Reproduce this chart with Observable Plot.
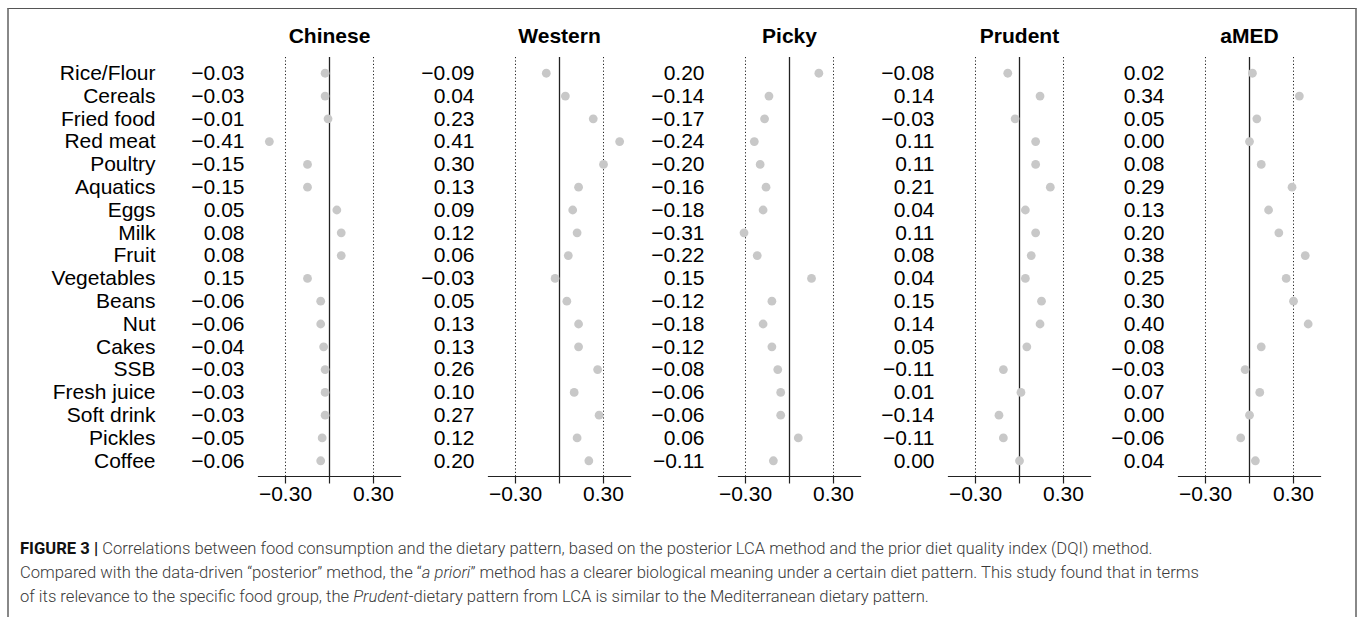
<!DOCTYPE html>
<html>
<head>
<meta charset="utf-8">
<script src="https://cdn.jsdelivr.net/npm/d3@7"></script>
<script src="https://cdn.jsdelivr.net/npm/@observablehq/plot@0.6"></script>
<style>
  html, body { margin: 0; padding: 0; background: #fff; }
  #page { position: relative; width: 1358px; height: 617px; overflow: hidden; }
  #box { position: absolute; left: 7px; top: 8px; width: 1346px; height: 700px;
         border-top: 1.5px solid #555; border-left: 2px solid #888; border-right: 2px solid #888; }
  #chart { position: absolute; left: 0; top: 0; }
  #caption { position: absolute; left: 20px; top: 537px; font-family: Roboto, "Liberation Sans", sans-serif;
             font-size: 16.6px; line-height: 24px; color: #3a3a3a; white-space: nowrap; font-weight: 300; }
  #caption b { color: #111; font-weight: 700; }
</style>
</head>
<body>
<div id="page">
  <div id="box"></div>
  <div id="chart"></div>
  <div id="caption"><b>FIGURE 3 |</b> Correlations between food consumption and the dietary pattern, based on the posterior LCA method and the prior diet quality index (DQI) method.<br>Compared with the data-driven “posterior” method, the “<i>a priori</i>” method has a clearer biological meaning under a certain diet pattern. This study found that in terms<br>of its relevance to the specific food group, the <i>Prudent</i>-dietary pattern from LCA is similar to the Mediterranean dietary pattern.</div>
</div>
<script>
const foods = ["Rice/Flour","Cereals","Fried food","Red meat","Poultry","Aquatics","Eggs","Milk","Fruit","Vegetables","Beans","Nut","Cakes","SSB","Fresh juice","Soft drink","Pickles","Coffee"];
const patterns = ["Chinese","Western","Picky","Prudent","aMED"];

// printed correlation values
const chinese = [-0.03,-0.03,-0.01,-0.41,-0.15,-0.15,0.05,0.08,0.08,0.15,-0.06,-0.06,-0.04,-0.03,-0.03,-0.03,-0.05,-0.06];
const western = [-0.09,0.04,0.23,0.41,0.30,0.13,0.09,0.12,0.06,-0.03,0.05,0.13,0.13,0.26,0.10,0.27,0.12,0.20];
const picky   = [0.20,-0.14,-0.17,-0.24,-0.20,-0.16,-0.18,-0.31,-0.22,0.15,-0.12,-0.18,-0.12,-0.08,-0.06,-0.06,0.06,-0.11];
const prudent = [-0.08,0.14,-0.03,0.11,0.11,0.21,0.04,0.11,0.08,0.04,0.15,0.14,0.05,-0.11,0.01,-0.14,-0.11,0.00];
const amed    = [0.02,0.34,0.05,0.00,0.08,0.29,0.13,0.20,0.38,0.25,0.30,0.40,0.08,-0.03,0.07,0.00,-0.06,0.04];

// plotted dot positions (as drawn in the figure; Chinese "Vegetables" dot sits at -0.15)
const chineseDots = [-0.03,-0.03,-0.01,-0.41,-0.15,-0.15,0.05,0.08,0.08,-0.15,-0.06,-0.06,-0.04,-0.03,-0.03,-0.03,-0.05,-0.06];

const axisTicks = [-0.30, 0, 0.30];
const axisTickLabels = ["−0.30", "", "0.30"];

const labelSeries = [chinese, western, picky, prudent, amed];
const dotSeries = [chineseDots, western, picky, prudent, amed];

const rows = [];
patterns.forEach((p, i) => {
  foods.forEach((f, j) => {
    rows.push({pattern: p, food: f, row: j, value: labelSeries[i][j], dot: dotSeries[i][j]});
  });
});
const fmt = d3.format(".2f");
const firstRows = rows.filter(d => d.pattern === patterns[0]);
const pad = 0.69;

const chart = Plot.plot({
  width: 1358,
  height: 516,
  marginTop: 57,
  marginBottom: 40,
  marginLeft: 256,
  marginRight: 36,
  style: {fontFamily: "'Liberation Sans', Arial, Helvetica, sans-serif", fontSize: "21px", color: "#000", background: "transparent"},
  fx: {domain: patterns, paddingInner: 0.3845, paddingOuter: 0, axis: null},
  x: {domain: [-0.484, 0.484], axis: null},
  y: {type: "linear", domain: [-pad, foods.length - 1 + pad], range: [57, 476], axis: null},
  marks: [
    Plot.ruleX([-0.30, 0.30], {stroke: "#222", strokeWidth: 1, strokeDasharray: "1.2,2.2"}),
    Plot.ruleX([0], {stroke: "#222", strokeWidth: 1.3}),
    Plot.frame({anchor: "bottom", stroke: "#222", strokeWidth: 1.2}),
    Plot.axisX({ticks: axisTicks, tickSize: 7.5, tickPadding: 2.5, stroke: "#222", strokeWidth: 1.2, label: null,
                tickFormat: d => axisTickLabels[axisTicks.indexOf(d)], fontSize: 21, fill: "#000"}),
    Plot.dot(rows, {x: "dot", y: "row", fx: "pattern", r: 4.4, fill: "#c8c8c8", stroke: null}),
    Plot.text(rows, {y: "row", fx: "pattern", text: d => fmt(d.value), frameAnchor: "left", dx: -14,
                     textAnchor: "end", lineAnchor: "middle", fontSize: 21, fill: "#000"}),
    Plot.text(firstRows, {y: "row", fx: "pattern", text: "food", frameAnchor: "left", dx: -103,
                          textAnchor: "end", lineAnchor: "middle", fontSize: 21, fill: "#000"}),
    Plot.text(patterns, {fx: d => d, text: d => d, frameAnchor: "top", dy: -21, lineAnchor: "middle",
                         fontSize: 21, fontWeight: "bold", fill: "#000"})
  ]
});
document.getElementById("chart").appendChild(chart);
</script>
</body>
</html>
